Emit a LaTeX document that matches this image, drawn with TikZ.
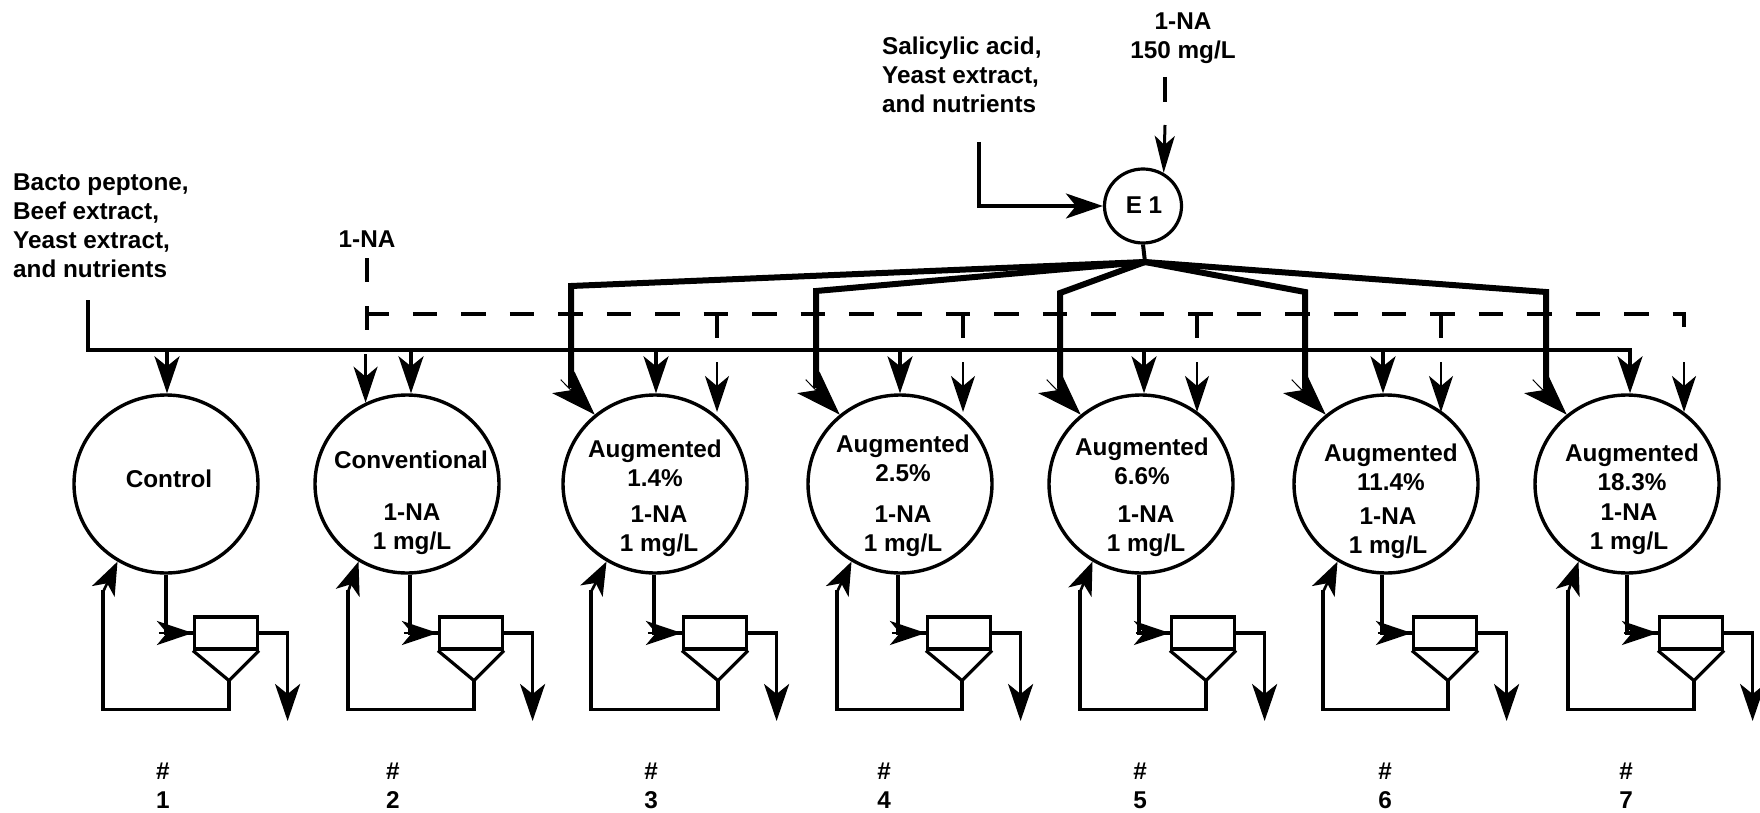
\documentclass[tikz,border=0pt]{standalone}
\usepackage{fontspec}
\setmainfont{Liberation Sans}
\usetikzlibrary{arrows.meta,positioning,shapes.geometric,calc}

\begin{document}
\begin{tikzpicture}[
  x=1pt, y=-1pt,
  txt/.style={font=\bfseries\fontsize{24.3}{29}\selectfont, align=center, inner sep=0pt},
  reactor/.style={ellipse, draw, line width=3.4pt, minimum width=184pt, minimum height=178pt, inner sep=0pt},
  tank/.style={rectangle, draw, line width=3.2pt, minimum width=63pt, minimum height=32pt, inner sep=0pt},
  pipe/.style={line width=3.2pt},
  flow/.style={line width=3.2pt, -{Stealth[length=37pt,width=25pt,inset=10pt]}},
  thin flow/.style={line width=2.6pt, -{Stealth[length=36pt,width=24pt,inset=10pt]}},
  back flow/.style={line width=2.6pt, -{Stealth[length=33pt,width=25pt,inset=9pt]}},
  boost/.style={line width=1pt, -{Stealth[length=45pt,width=31pt,inset=11pt]}},
  boostline/.style={line width=6pt, line join=miter},
  dosing/.style={line width=3.2pt, dash pattern=on 24.5pt off 23.95pt, dash phase=2.5pt}
]
\useasboundingbox (0,0) rectangle (1760,813);

% Enrichment reactor
\node[ellipse, draw, line width=3.2pt, minimum width=77pt, minimum height=74pt, inner sep=0pt] (e1) at (1143,206) {};
\node[txt] (e1txt) at (1144,205) {E 1};
\node[txt, align=left, anchor=west] (salt) at (882,75) {Salicylic acid,\\Yeast extract,\\and nutrients};
\node[txt] (na150) at (1183,38) {1-NA\\150 mg/L};
\node[txt, align=left, anchor=west] (feedtxt) at (13,225.5) {Bacto peptone,\\Beef extract,\\Yeast extract,\\and nutrients};
\node[txt] (natxt) at (367,239) {1-NA};

% Reactors, clarifiers and recycle
\foreach \i/\cx/\dd/\sx/\rx/\nx in {1/166/0/226/103/163, 2/407/3/471/348/393, 3/655/-1/715/591/651, 4/900/-2/959/837/884,
    5/1141/-2/1203/1080/1140, 6/1386/-4/1445/1323/1385, 7/1627/0/1691/1568/1626}{
  \node[reactor] (c\i) at (\cx,484) {};
  \node[tank] (s\i) at (\sx,633) {};
  \coordinate (h\i) at ($(s\i.south)+(3,30)$);
  \draw[pipe, line join=miter] (s\i.south west) -- (h\i) -- (s\i.south east);
  \draw[pipe] ([xshift=\dd pt]c\i.south) |- (s\i.west);
  \draw[thin flow] ([xshift=-34pt]s\i.west) -- (s\i.west);
  \draw[pipe] (h\i) -- ($(h\i)+(0,29)$) -| (\rx,590);
  \draw[back flow] (\rx,592) -- (c\i.238);
  \draw[flow] (s\i.east) -- ($(s\i.east)+(28.5,0)$) -- ($(s\i.east)+(28.5,88)$);
  \node[txt] (n\i) at (\nx,786) {\#\\\i};
}

% Labels
\node[txt] (t1) at (169,479) {Control};
\node[txt] (t2) at (411,460) {Conventional};
\foreach \i/\tx/\ty/\pct/\dx/\dy in {3/655/463/1.4/659/531, 4/903/458/2.5/903/531, 5/1142/461/6.6/1146/531,
    6/1391/467/11.4/1388/533, 7/1632/467/18.3/1629/529}{
  \node[txt] (t\i) at (\tx,\ty) {Augmented\\\pct\%};
  \node[txt] (d\i) at (\dx,\dy) {1-NA\\1 mg/L};
}
\node[txt] (d2) at (412,529) {1-NA\\1 mg/L};

% Substrate feed
\coordinate (feed) at (88,300);
\coordinate (main) at (88,350);
\draw[flow] (feed) |- ([xshift=3pt]c7.north |- main) -- ([xshift=3pt]c7.north);
\foreach \i/\td in {1/1, 2/4, 3/1, 4/0, 5/3, 6/-3}{
  \draw[flow] ([xshift=\td pt]c\i.north |- main) -- ([xshift=\td pt]c\i.north);
}

% Dosing line
\coordinate (dosea) at (367,258);
\coordinate (doseb) at (367,282);
\coordinate (dose) at (367,314);
\coordinate (stub) at (367,338);
\coordinate (res) at (367,362);
\coordinate (tip) at (367,412);
\draw[pipe] (dosea) -- (doseb);
\draw[dosing] (dose) -- ([xshift=57pt]c7.north |- dose) -- ([xshift=57pt]c7.north |- stub);
\draw[pipe] (367,306) -- (367,330);
\draw[thin flow] (c2.117 |- 0,354) -- (c2.117);
\foreach \i/\dx in {3/62, 4/63, 5/56, 6/55}{
  \draw[pipe] ([xshift=\dx pt]c\i.north |- dose) -- ([xshift=\dx pt]c\i.north |- stub);
  \draw[thin flow] ([xshift=\dx pt]c\i.north |- res) -- ([xshift=\dx pt]c\i.north |- tip);
}
\draw[thin flow] ([xshift=57pt]c7.north |- res) -- ([xshift=57pt]c7.north |- tip);

% Feeds to enrichment reactor
\coordinate (saltin) at (979,142);
\draw[flow] (saltin) |- (e1.west);
\coordinate (na1) at (1165,77);
\coordinate (na2) at (1165,102);
\coordinate (na3) at (1165,125);
\draw[pipe] (na1) -- (na2);
\draw[line width=3pt, -{Stealth[length=37pt,width=20pt,inset=9pt]}] (na3) -- (e1.58);

% Bleed-in lines
\coordinate (hub) at (1145,262);
\draw[line width=4pt] (e1.south) -- (hub);
\foreach \i/\bx/\by in {3/571/286, 4/816/291, 5/1060/293, 6/1305/292, 7/1546/292}{
  \draw[boostline] (hub) -- (\bx,\by) -- (\bx,388);
  \draw[boost] ([shift={(-34,-35)}]c\i.131) -- (c\i.131);
}
\end{tikzpicture}
\end{document}
